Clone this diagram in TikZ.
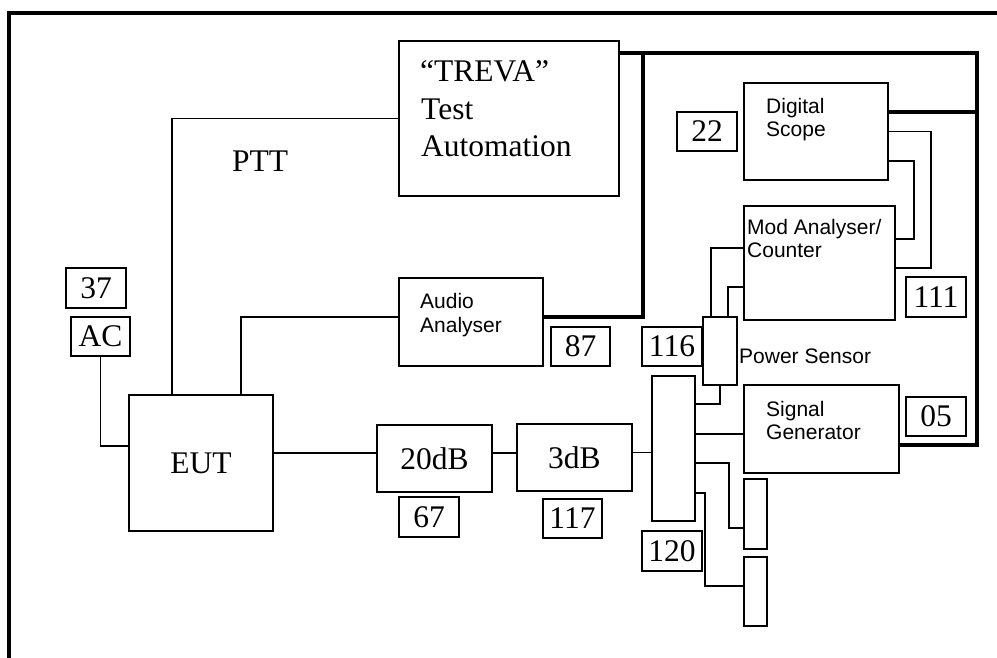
\documentclass[tikz,border=0pt]{standalone}
\usepackage{fontspec}
\setmainfont{Liberation Serif}
\newfontfamily\arialf{Liberation Sans}
\newcommand\mkbox[6]{\node[box, minimum width={(#4-#2)*1pt}, minimum height={(#5-#3)*1pt}] (#1) at ({(#2+#4)/2},{(#3+#5)/2}) {#6};}
\tikzset{
 box/.style={draw, line width=1.6pt, inner sep=0pt, font=\fontsize{31.5}{37}\selectfont},
 conn/.style={line width=1.5pt},
 thickline/.style={line width=4.6pt, line join=miter},
 frameline/.style={line width=4pt},
 sertxt/.style={inner sep=0pt, anchor=base west, font=\fontsize{31.5}{37}\selectfont},
 santxt/.style={inner sep=0pt, anchor=base west, font=\arialf\fontsize{21}{24}\selectfont},
}
\begin{document}
\begin{tikzpicture}[x=1pt,y=-1pt]
\useasboundingbox (0,0) rectangle (997,658);
% outer frame
\coordinate (F1) at (8.5,658);
\coordinate (F2) at (8.5,13);
\coordinate (F3) at (997,13);
\draw[frameline] (F1) -- (F2) -- (F3);
% boxes
\mkbox{treva}{399}{41}{619}{196}{}
\mkbox{audio}{399}{278}{543}{366}{}
\mkbox{eut}{129}{395}{273}{531}{EUT}
\mkbox{att20}{377}{425}{492}{492}{20dB}
\mkbox{att3}{517}{424}{632}{491}{3dB}
\mkbox{scope}{744}{83}{888}{180}{}
\mkbox{mod}{744}{206}{895}{320}{}
\mkbox{psens}{703}{317}{737}{385}{}
\mkbox{split}{652}{376}{695}{521}{}
\mkbox{siggen}{744}{385}{899}{473}{}
\mkbox{loadA}{744}{479}{767}{549}{}
\mkbox{loadB}{744}{557}{767}{626}{}
\mkbox{n37}{66}{268}{126}{308}{37}
\mkbox{nAC}{71}{317}{130}{356}{AC}
\mkbox{n22}{677}{112}{737}{151}{22}
\mkbox{n111}{906}{277}{966}{317}{111}
\mkbox{n87}{551}{327}{610}{366}{87}
\mkbox{n116}{642}{327}{702}{366}{116}
\mkbox{n05}{906}{397}{966}{436}{05}
\mkbox{n67}{399}{497}{459}{537}{67}
\mkbox{n117}{543}{499}{602}{538}{117}
\mkbox{n120}{642}{531}{702}{571}{120}
% texts
\node[sertxt] (t1) at (420,82) {“TREVA”};
\node[sertxt] (t2) at (421,120) {Test};
\node[sertxt] (t3) at (421,157) {Automation};
\node[sertxt] (ptt) at (232,172) {PTT};
\node[santxt] (a1) at (420,308) {Audio};
\node[santxt] (a2) at (420,332) {Analyser};
\node[santxt] (d1) at (766,114) {Digital};
\node[santxt] (d2) at (766,137) {Scope};
\node[santxt] (m1) at (747,235) {Mod Analyser/};
\node[santxt] (m2) at (747,258) {Counter};
\node[santxt] (ps) at (739,363) {Power Sensor};
\node[santxt] (s1) at (766,416) {Signal};
\node[santxt] (s2) at (766,439) {Generator};
% thin connectors
\draw[conn] (nAC.south) |- ([yshift=17pt]eut.west);
\draw[conn] ([xshift=-29pt]eut.north) |- (treva.west);
\draw[conn] ([xshift=40pt]eut.north) |- ([yshift=5pt]audio.west);
\draw[conn] ([yshift=10pt]eut.east) coordinate (c1) -- (c1 -| att20.west);
\draw[conn] ([yshift=5.5pt]att20.east) coordinate (c2) -- (c2 -| att3.west);
\draw[conn] ([yshift=5pt]att3.east) coordinate (c3) -- (c3 -| split.west);
\draw[conn] ([yshift=-5pt]siggen.west) coordinate (c4) -- (c4 -| split.east);
\draw[conn] (psens.south) |- ([yshift=44.5pt]split.east);
\draw[conn] ([yshift=-14.5pt]split.east) -- ++(33,0) |- ([yshift=-14pt]loadA.west);
\draw[conn] ([yshift=-44.5pt]split.east) -- ++(9,0) |- ([yshift=5.5pt]loadB.west);
\draw[conn] ([yshift=15pt]mod.west) -| ([xshift=-9pt]psens.north);
\draw[conn] ([yshift=-24pt]mod.west) -| ([xshift=8pt]psens.north);
\draw[conn] (scope.east) -- ++(42,0) |- ([yshift=-5pt]mod.east);
\draw[conn] ([yshift=-29.5pt]scope.east) -- ++(25,0) |- ([yshift=24pt]mod.east);
% thick connectors
\coordinate (R1) at (977,53);
\coordinate (R2) at (977,445);
\coordinate (J1) at (643,53);
\draw[thickline] ([yshift=65.5pt]treva.east) -- (R1) -- (R2) -- ([yshift=-16pt]siggen.east);
\draw[thickline] (J1) |- ([yshift=5pt]audio.east);
\draw[thickline] ([yshift=19.5pt]scope.east) coordinate (c5) -- (c5 -| R1);
\end{tikzpicture}
\end{document}
